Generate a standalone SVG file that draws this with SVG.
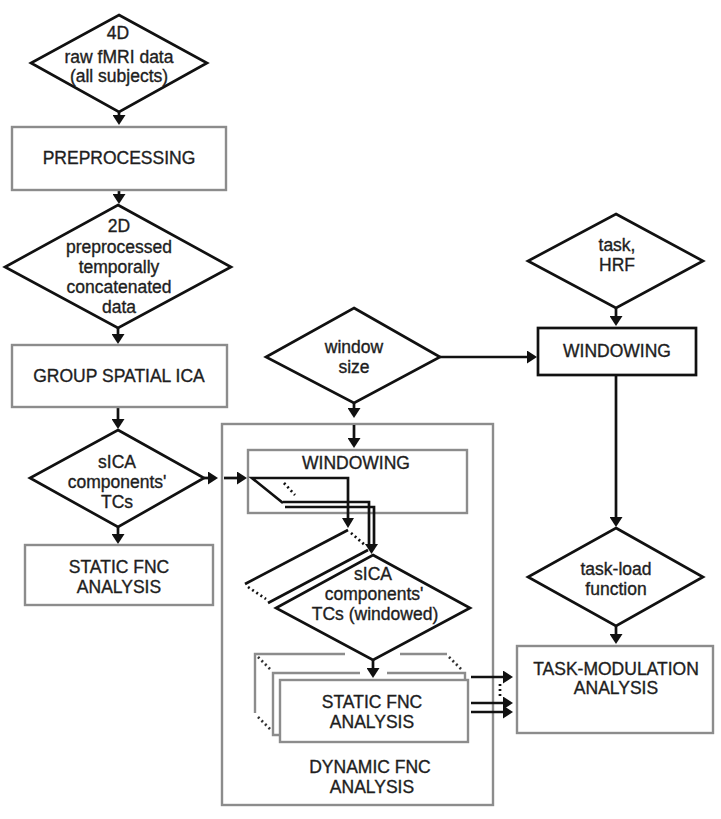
<svg xmlns="http://www.w3.org/2000/svg" width="721" height="819" viewBox="0 0 721 819">
<style>
  .dia{fill:#fff;stroke:#111;stroke-width:2.7;stroke-linejoin:miter}
  .gbox{fill:#fff;stroke:#8c8c8c;stroke-width:2.4}
  .obox{fill:none;stroke:#8c8c8c;stroke-width:2.4}
  .bbox{fill:#fff;stroke:#111;stroke-width:2.7}
  .gl{fill:none;stroke:#8c8c8c;stroke-width:2.4}
  .bl{fill:none;stroke:#111;stroke-width:2.7}
  .arr{fill:none;stroke:#111;stroke-width:2.7;marker-end:url(#ah)}
  .dot{fill:none;stroke:#111;stroke-width:2.7;stroke-dasharray:2 3}
  .gdot{fill:none;stroke:#333;stroke-width:2.7;stroke-dasharray:2 3}
  text{font-family:"Liberation Sans",Arial,sans-serif;font-size:17.5px;fill:#1e1e1e;stroke:#1e1e1e;stroke-width:0.35;text-anchor:middle}
</style>
<defs>
  <marker id="ah" markerUnits="userSpaceOnUse" viewBox="0 0 10 13" markerWidth="10" markerHeight="13" refX="7" refY="6.5" orient="auto">
    <path d="M0,0 L10,6.5 L0,13 z" fill="#111"/>
  </marker>
</defs>
<rect width="721" height="819" fill="#fff"/>

<g id="n-dynamic">
  <rect class="obox" x="222" y="424" width="271" height="381"/>
  <text x="370" y="773">DYNAMIC FNC</text>
  <text x="372" y="793">ANALYSIS</text>
</g>

<g id="connectors">
  <line class="arr" x1="119" y1="112" x2="119" y2="122"/>
  <line class="arr" x1="119" y1="190" x2="119" y2="201"/>
  <line class="arr" x1="118" y1="328" x2="118" y2="341"/>
  <line class="arr" x1="118" y1="407" x2="118" y2="426"/>
  <line class="arr" x1="118" y1="527" x2="118" y2="541"/>
  <line class="arr" x1="204" y1="478" x2="215" y2="478"/>
  <line class="arr" x1="224" y1="478" x2="244" y2="478"/>
  <line class="arr" x1="354" y1="403" x2="354" y2="415"/>
  <line class="arr" x1="354" y1="425" x2="354" y2="445"/>
  <line class="arr" x1="440" y1="357" x2="534" y2="357"/>
  <line class="arr" x1="616" y1="308" x2="616" y2="323"/>
  <line class="arr" x1="616" y1="375" x2="616" y2="524"/>
  <line class="arr" x1="616" y1="626" x2="616" y2="641"/>
  <line class="arr" x1="373" y1="660" x2="373" y2="675"/>
  <line class="arr" x1="471" y1="677" x2="510" y2="677"/>
  <line class="arr" x1="471" y1="703" x2="510" y2="703"/>
  <line class="arr" x1="471" y1="712" x2="510" y2="712"/>
  <line class="dot" x1="500" y1="684" x2="500" y2="699"/>
</g>

<g id="n-raw">
  <polygon class="dia" points="119,15 207,63 119,112 31,63"/>
  <text x="118" y="39">4D</text>
  <text x="119" y="63">raw fMRI data</text>
  <text x="119" y="82">(all subjects)</text>
</g>

<g id="n-preproc">
  <rect class="gbox" x="12" y="127" width="214" height="63"/>
  <text x="119" y="164">PREPROCESSING</text>
</g>

<g id="n-2d">
  <polygon class="dia" points="118,205 231,267 118,328 5,267"/>
  <text x="119" y="232">2D</text>
  <text x="119" y="253">preprocessed</text>
  <text x="119" y="273">temporally</text>
  <text x="119" y="293">concatenated</text>
  <text x="119" y="313">data</text>
</g>

<g id="n-gica">
  <rect class="gbox" x="12" y="345" width="215" height="62"/>
  <text x="119" y="382">GROUP SPATIAL ICA</text>
</g>

<g id="n-sica">
  <polygon class="dia" points="118,430 204,478 118,527 30,478"/>
  <text x="117" y="468">sICA</text>
  <text x="117" y="488">components'</text>
  <text x="117" y="508">TCs</text>
</g>

<g id="n-static">
  <rect class="gbox" x="25" y="545" width="188" height="60"/>
  <text x="119" y="573">STATIC FNC</text>
  <text x="119" y="593">ANALYSIS</text>
</g>

<g id="n-winsize">
  <polygon class="dia" points="354,308 440,357 354,403 266,357"/>
  <text x="354" y="353">window</text>
  <text x="354" y="373">size</text>
</g>

<g id="n-windowing-inner">
  <rect class="obox" x="248" y="450" width="219" height="63"/>
  <text x="356" y="469">WINDOWING</text>
  <polyline class="bl" points="283,503 252,478 348,478 348,519"/>
  <path d="M342,518 L354,518 L348,528 z" fill="#111"/>
  <line class="dot" x1="284" y1="483" x2="295" y2="495"/>
  <polyline class="bl" points="283,502 369,502 369,547"/>
  <polyline class="bl" points="285,507 374,507 374,547"/>
  <path d="M365,544 L378,544 L371.5,554 z" fill="#111"/>
</g>

<g id="n-sica-win">
  <line class="bl" x1="245" y1="584" x2="348" y2="530"/>
  <line class="dot" x1="351" y1="533" x2="366" y2="546"/>
  <line class="dot" x1="248" y1="587" x2="266" y2="599"/>
  <line class="bl" x1="268" y1="603" x2="368" y2="550"/>
  <polygon class="dia" points="373,555 470,608 373,660 276,608"/>
  <text x="373" y="580">sICA</text>
  <text x="374" y="600">components'</text>
  <text x="375" y="620">TCs (windowed)</text>
</g>

<g id="n-static-win">
  <polyline class="gl" points="345,654 255,654 255,713"/>
  <line class="gl" x1="400" y1="654" x2="447" y2="654"/>
  <line class="gdot" x1="258" y1="657" x2="271" y2="670"/>
  <line class="gdot" x1="449" y1="657" x2="462" y2="670"/>
  <line class="gdot" x1="258" y1="717" x2="271" y2="730"/>
  <polyline class="gl" points="360,673 273,673 273,735 280,735"/>
  <polyline class="gl" points="387,673 465,673 465,680"/>
  <rect class="gbox" x="280" y="680" width="188" height="62"/>
  <text x="372" y="708">STATIC FNC</text>
  <text x="372" y="728">ANALYSIS</text>
</g>

<g id="n-task">
  <polygon class="dia" points="616,214 703,261 616,308 528,261"/>
  <text x="617" y="251">task,</text>
  <text x="617" y="271">HRF</text>
</g>

<g id="n-windowing-right">
  <rect class="bbox" x="538" y="328" width="158" height="47"/>
  <text x="617" y="357">WINDOWING</text>
</g>

<g id="n-taskload">
  <polygon class="dia" points="616,528 703,577 616,626 528,577"/>
  <text x="616" y="575">task-load</text>
  <text x="616" y="595">function</text>
</g>

<g id="n-taskmod">
  <rect class="gbox" x="517" y="646" width="196" height="87"/>
  <text x="616" y="675">TASK-MODULATION</text>
  <text x="616" y="694">ANALYSIS</text>
</g>
</svg>
